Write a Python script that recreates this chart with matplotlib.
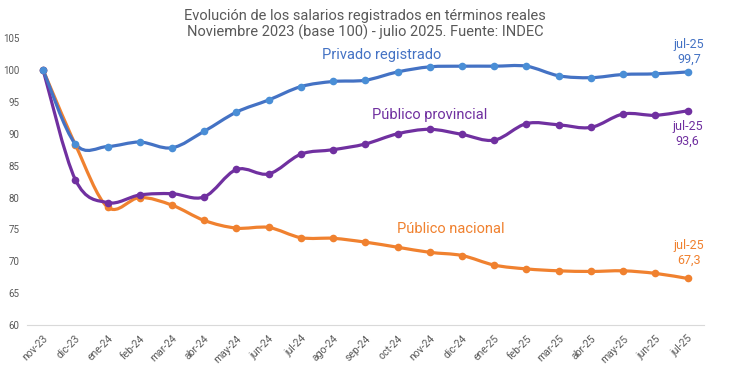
import numpy as np
import matplotlib
matplotlib.use("Agg")
import matplotlib.pyplot as plt
from matplotlib.path import Path
from matplotlib.patches import PathPatch
from matplotlib.ticker import MultipleLocator

plt.rcParams['font.family'] = ['Roboto', 'DejaVu Sans']

MESES = ["nov-23", "dic-23", "ene-24", "feb-24", "mar-24", "abr-24", "may-24",
         "jun-24", "jul-24", "ago-24", "sep-24", "oct-24", "nov-24", "dic-24",
         "ene-25", "feb-25", "mar-25", "abr-25", "may-25", "jun-25", "jul-25"]

privado = [100, 88.4, 88.0, 88.7, 87.8, 90.4, 93.4, 95.3, 97.4, 98.2, 98.4,
           99.7, 100.5, 100.6, 100.6, 100.6, 99.1, 98.8, 99.3, 99.4, 99.7]
provincial = [100, 82.8, 79.2, 80.4, 80.6, 80.1, 84.4, 83.7, 86.8, 87.5, 88.4,
              90.0, 90.7, 89.9, 89.0, 91.6, 91.4, 91.0, 93.1, 92.9, 93.6]
nacional = [100, 88.3, 78.5, 80.0, 78.8, 76.4, 75.2, 75.3, 73.7, 73.6, 73.0,
            72.2, 71.4, 70.9, 69.4, 68.8, 68.5, 68.4, 68.5, 68.1, 67.3]

AZUL_LINEA = "#4472C4"
AZUL_PUNTO = "#4A8ED6"
NARANJA = "#F0812F"
VIOLETA = "#7030A0"
GRIS = "#595959"


def curva_suave(x, y):
    # bezier tipo catmull-rom, como el "suavizado" de excel
    pts = np.column_stack([x, y]).astype(float)
    verts = [pts[0]]
    codes = [Path.MOVETO]
    n = len(pts)
    for i in range(n - 1):
        p0 = pts[i - 1] if i > 0 else pts[i]
        p1 = pts[i]
        p2 = pts[i + 1]
        p3 = pts[i + 2] if i + 2 < n else pts[i + 1]
        c1 = p1 + (p2 - p0) / 6
        c2 = p2 - (p3 - p1) / 6
        verts += [c1, c2, p2]
        codes += [Path.CURVE4] * 3
    return Path(verts, codes)


fig = plt.figure(figsize=(7.3, 3.74), dpi=100)
ax = fig.add_axes([0.037, 0.131, 0.927, 0.767])

x = np.arange(len(MESES))
series = [(nacional, NARANJA, NARANJA),
          (provincial, VIOLETA, VIOLETA),
          (privado, AZUL_LINEA, AZUL_PUNTO)]
for vals, c_linea, c_punto in series:
    ax.add_patch(PathPatch(curva_suave(x, vals), facecolor="none",
                           edgecolor=c_linea, lw=2.3, capstyle="round", zorder=3))
    ax.plot(x, vals, linestyle="none", marker="o", ms=5.5, color=c_punto,
            markeredgewidth=0, zorder=4)

ax.set_xlim(-0.5, len(MESES) - 0.5)
ax.set_ylim(60, 105)
ax.yaxis.set_major_locator(MultipleLocator(5))
ax.set_xticks(x)
ax.set_xticklabels(MESES, rotation=45, ha="right", rotation_mode="anchor",
                   fontsize=7.5, color=GRIS)
ax.tick_params(axis="y", labelsize=7, labelcolor=GRIS, length=0, pad=5.5)
ax.tick_params(axis="x", length=0, pad=6)
for lado in ["top", "right", "left"]:
    ax.spines[lado].set_visible(False)
ax.spines["bottom"].set_color("#D9D9D9")

fig.text(0.5, 0.975, "Evolución de los salarios registrados en términos reales\n"
         "Noviembre 2023 (base 100) - julio 2025. Fuente: INDEC",
         ha="center", va="top", fontsize=10.5, color=GRIS, linespacing=1.15)

ax.text(10.5, 102.4, "Privado registrado", color=AZUL_LINEA, fontsize=10.5, ha="center", va="center")
ax.text(12.0, 92.9, "Público provincial", color=VIOLETA, fontsize=10.5, ha="center", va="center")
ax.text(12.65, 75.0, "Público nacional", color=NARANJA, fontsize=10.5, ha="center", va="center")

ax.text(20.05, 102.9, "jul-25\n99,7", color=AZUL_LINEA, fontsize=9, ha="center", va="center", linespacing=1.2)
ax.text(20.0, 90.0, "jul-25\n93,6", color=VIOLETA, fontsize=9, ha="center", va="center", linespacing=1.2)
ax.text(20.05, 71.3, "jul-25\n67,3", color=NARANJA, fontsize=9, ha="center", va="center", linespacing=1.2)

fig.savefig("out.png", dpi=100)
